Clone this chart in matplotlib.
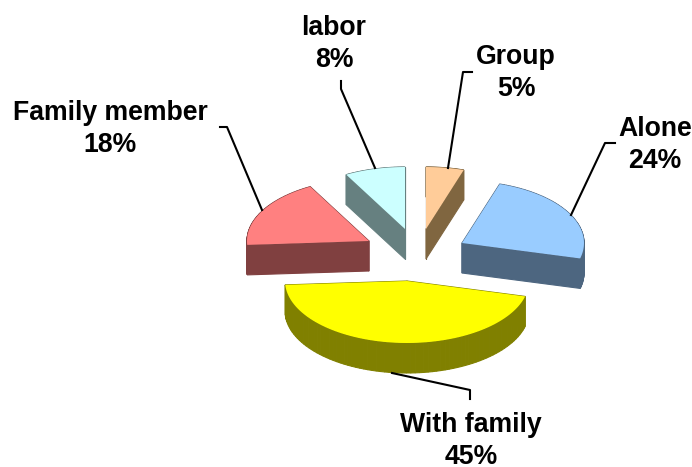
import numpy as np
import matplotlib
matplotlib.use('Agg')
import matplotlib.pyplot as plt

plt.rcParams['font.family'] = ['Liberation Sans', 'DejaVu Sans']

# shares, in drawing order
categories = ['Alone', 'Group', 'labor', 'Family member', 'With family']
shares = [24, 5, 8, 18, 45]
top_colors = ['#99CCFF', '#FFCC99', '#CCFFFF', '#FF8080', '#FFFF00']
side_colors = ['#4D6680', '#806640', '#668080', '#804040', '#808000']

# apex of every exploded slice, in pixels from the top left
apex_x = [462, 426, 405, 369, 407]
apex_y = [243, 229, 229, 241, 281]

rx = 122
ry = 62
depth = 30
start_angle = -14.4

# label centre and leader line, pixels
label_x = [655, 516, 334, 110, 471]
label_y = [145, 73, 44, 129, 441]
leader_x = [[615, 605, 571], [472, 463, 448], [341, 341, 375], [220, 227, 262], [470, 470, 392]]
leader_y = [[143, 143, 215], [72, 72, 168], [81, 89, 168], [127, 127, 210], [399, 390, 373]]

fig = plt.figure(figsize=(6.92, 4.67), dpi=100)
ax = fig.add_axes([0, 0, 1, 1])
ax.set_xlim(0, 692)
ax.set_ylim(467, 0)
ax.axis('off')


def slice_outline(cx, cy, a0, a1):
    t = np.radians(np.linspace(a0, a1, 80))
    xs = np.concatenate([[cx], cx + rx * np.cos(t), [cx]])
    ys = np.concatenate([[cy], cy - ry * np.sin(t), [cy]])
    return xs, ys


angle = start_angle
for i, share in enumerate(shares):
    a1 = angle + share * 3.6
    xs, ys = slice_outline(apex_x[i], apex_y[i], angle, a1)
    # side wall: one quad per outline segment, then the top face over them
    for j in range(len(xs) - 1):
        ax.fill([xs[j], xs[j + 1], xs[j + 1], xs[j]],
                [ys[j], ys[j + 1], ys[j + 1] + depth, ys[j] + depth],
                color=side_colors[i], lw=0.8, zorder=2 + i)
    ax.fill(xs, ys, color=top_colors[i], lw=0, zorder=2.5 + i)
    angle = a1

for i in range(len(shares)):
    ax.plot(leader_x[i], leader_y[i], color='black', lw=1.5, zorder=10)
    ax.text(label_x[i], label_y[i], '%s\n%d%%' % (categories[i], shares[i]),
            ha='center', va='center', fontsize=19.2, fontweight='bold',
            linespacing=1.3, color='black', zorder=11)

fig.savefig('out.png', dpi=100)
